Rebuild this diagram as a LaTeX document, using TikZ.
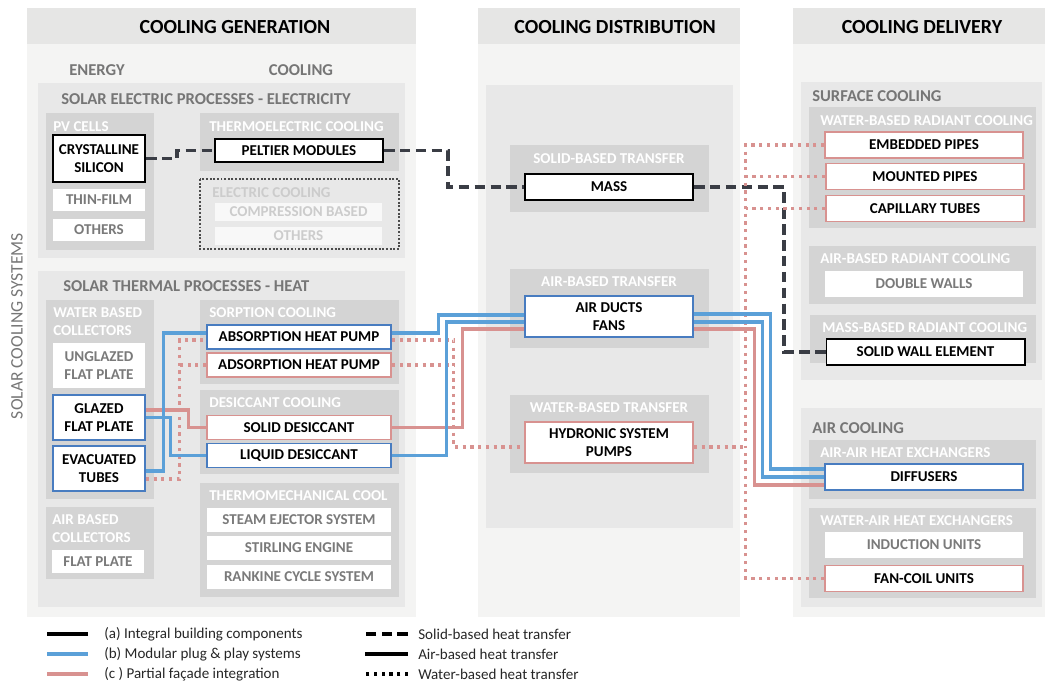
\documentclass[tikz,border=0pt]{standalone}
\usepackage{fontspec}
\setmainfont{Carlito}
\usepackage{tikz}
\definecolor{bandgray}{RGB}{230,230,229}
\definecolor{colgray}{RGB}{244,244,243}
\definecolor{panelgray}{RGB}{232,232,232}
\definecolor{subgray}{RGB}{212,212,212}
\definecolor{titlegray}{RGB}{118,118,118}
\definecolor{boxtext}{RGB}{122,122,122}
\definecolor{fadegray}{RGB}{204,204,204}
\definecolor{modular}{RGB}{91,160,216}
\definecolor{modframe}{RGB}{72,124,192}
\definecolor{facade}{RGB}{216,146,144}
\definecolor{integral}{RGB}{58,61,69}
\definecolor{legendtext}{RGB}{38,38,38}

\begin{document}
\begin{tikzpicture}[x=0.025cm,y=-0.025cm,
        boxtxt/.style={font=\bfseries\fontsize{10.7}{12.8}\selectfont,align=center,inner sep=0pt,fill=white},
        intbox/.style={boxtxt,draw=black,line width=1.4pt,text=black},
        modbox/.style={boxtxt,draw=modframe,line width=1.1pt,text=black},
        facbox/.style={boxtxt,draw=facade,line width=1.1pt,text=black},
        optbox/.style={boxtxt,text=boxtext},
        fadebox/.style={boxtxt,fill=white!70!panelgray,text=fadegray},
        collbox/.style={minimum width=2.3cm},
        coolbox/.style={minimum width=4.6cm,minimum height=0.6cm},
        tranbox/.style={minimum width=4.2cm},
        delibox/.style={minimum width=4.95cm,minimum height=0.65cm},
        colhead/.style={font=\bfseries\fontsize{14.2}{16}\selectfont,inner sep=0pt},
        sidehead/.style={font=\bfseries\fontsize{11.8}{14}\selectfont,text=titlegray,inner sep=0pt},
        paneltitle/.style={font=\bfseries\fontsize{11.8}{14}\selectfont,text=titlegray,anchor=west,inner sep=0pt},
        subtitle/.style={font=\bfseries\fontsize{10.7}{12.8}\selectfont,text=white,anchor=west,inner sep=0pt,align=left},
        legtxt/.style={font=\fontsize{10.7}{12.8}\selectfont,text=legendtext,anchor=west,inner sep=0pt},
        solidwire/.style={line width=2.3pt},
        dashwire/.style={line width=2.3pt,dash pattern=on 7.5pt off 3.8pt},
        dotwire/.style={line width=2.3pt,dash pattern=on 2.3pt off 3.2pt},
    ]
        \useasboundingbox (0,0) rectangle (1050,681);

        % columns
        \fill[colgray] (27,8) rectangle (416,617);
        \fill[colgray] (478,8) rectangle (740,617);
        \fill[colgray] (793,8) rectangle (1045,617);
        \fill[bandgray] (27,8) rectangle (416,44);
        \fill[bandgray] (478,8) rectangle (740,44);
        \fill[bandgray] (793,8) rectangle (1045,44);
        \node[colhead] (genhead) at (235,27) {COOLING GENERATION};
        \node[colhead] (disthead) at (615,27) {COOLING DISTRIBUTION};
        \node[colhead] (delhead) at (922,27) {COOLING DELIVERY};
        \node[sidehead] (energyhead) at (97,70) {ENERGY};
        \node[sidehead] (coolhead) at (301,70) {COOLING};
        \node[rotate=90,font=\fontsize{12.5}{14}\selectfont,text=titlegray,inner sep=0pt] (sysname) at (17,326) {SOLAR COOLING SYSTEMS};

        % large panels
        \fill[panelgray] (38,83) rectangle (405,258);
        \fill[panelgray] (38,271) rectangle (405,607);
        \fill[panelgray] (486,85) rectangle (733,528);
        \fill[panelgray] (801,82) rectangle (1042,380);
        \fill[panelgray] (801,408) rectangle (1042,607);
        \node[paneltitle] (electitle) at (61,99) {SOLAR ELECTRIC PROCESSES - ELECTRICITY};
        \node[paneltitle] (thermtitle) at (63,286) {SOLAR THERMAL PROCESSES - HEAT};
        \node[paneltitle] (surftitle) at (812,96) {SURFACE COOLING};
        \node[paneltitle] (airtitle) at (812,428) {AIR COOLING};

        % sub panels
        \fill[subgray] (46,113) rectangle (154,250);
        \fill[subgray] (200,113) rectangle (399,171);
        \fill[subgray] (46,300) rectangle (154,499);
        \fill[subgray] (46,507) rectangle (154,579);
        \fill[subgray] (200,300) rectangle (399,384);
        \fill[subgray] (200,390) rectangle (399,474);
        \fill[subgray] (200,483) rectangle (399,597);
        \fill[subgray] (510,145) rectangle (709,212);
        \fill[subgray] (510,269) rectangle (709,348);
        \fill[subgray] (510,395) rectangle (709,473);
        \fill[subgray] (809,107) rectangle (1036,228);
        \fill[subgray] (809,246) rectangle (1036,304);
        \fill[subgray] (810,315) rectangle (1036,363);
        \fill[subgray] (809,440) rectangle (1036,499);
        \fill[subgray] (809,508) rectangle (1036,598);
        \draw[black!70,line width=1.4pt,dash pattern=on 1.4pt off 1.2pt] (200,179) rectangle (399,249);

        \node[subtitle] (pvtitle) at (53,127) {PV CELLS};
        \node[subtitle] (tectitle) at (209,127) {THERMOELECTRIC COOLING};
        \node[subtitle,text=fadegray] (eltitle) at (212,193) {ELECTRIC COOLING};
        \node[subtitle] (wctitle) at (53,322) {WATER BASED\\COLLECTORS};
        \node[subtitle] (actitle) at (52,529) {AIR BASED\\COLLECTORS};
        \node[subtitle] (sorptitle) at (209,313) {SORPTION COOLING};
        \node[subtitle] (destitle) at (209,403) {DESICCANT COOLING};
        \node[subtitle] (tmtitle) at (209,496) {THERMOMECHANICAL COOL};
        \node[subtitle,anchor=center] (sbtitle) at (609,159) {SOLID-BASED TRANSFER};
        \node[subtitle,anchor=center] (abtitle) at (609,282) {AIR-BASED TRANSFER};
        \node[subtitle,anchor=center] (wbtitle) at (609,408) {WATER-BASED TRANSFER};
        \node[subtitle] (wrtitle) at (820,121) {WATER-BASED RADIANT COOLING};
        \node[subtitle] (artitle) at (820,259) {AIR-BASED RADIANT COOLING};
        \node[subtitle] (mrtitle) at (822,328) {MASS-BASED RADIANT COOLING};
        \node[subtitle] (aatitle) at (820,453) {AIR-AIR HEAT EXCHANGERS};
        \node[subtitle] (watitle) at (820,521) {WATER-AIR HEAT EXCHANGERS};

        % generation
        \node[intbox,collbox,minimum height=1.175cm] (crys) at (99,158.5) {CRYSTALLINE\\SILICON};
        \node[optbox,collbox,minimum height=0.55cm] (thin) at (99,200) {THIN-FILM};
        \node[optbox,collbox,minimum height=0.55cm] (pvother) at (99,230) {OTHERS};
        \node[intbox,minimum width=4.2cm,minimum height=0.575cm] (peltier) at (299,150.5) {PELTIER MODULES};
        \node[fadebox,minimum width=4.175cm,minimum height=0.45cm] (compr) at (298.5,212) {COMPRESSION BASED};
        \node[fadebox,minimum width=4.175cm,minimum height=0.45cm] (elother) at (298.5,236) {OTHERS};
        \node[optbox,collbox,minimum height=1.125cm] (unglazed) at (99,365.5) {UNGLAZED\\FLAT PLATE};
        \node[modbox,collbox,minimum height=1.125cm] (glazed) at (99,417.5) {GLAZED\\FLAT PLATE};
        \node[modbox,collbox,minimum height=1.125cm] (evac) at (99,468.5) {EVACUATED\\TUBES};
        \node[optbox,collbox,minimum height=0.575cm] (airflat) at (98,561.5) {FLAT PLATE};
        \node[modbox,coolbox] (absorb) at (299,337) {ABSORPTION HEAT PUMP};
        \node[facbox,coolbox] (adsorb) at (299,365) {ADSORPTION HEAT PUMP};
        \node[facbox,coolbox] (soliddes) at (299,427.5) {SOLID DESICCANT};
        \node[modbox,coolbox] (liqdes) at (299,455.5) {LIQUID DESICCANT};
        \node[optbox,coolbox] (steam) at (299,520) {STEAM EJECTOR SYSTEM};
        \node[optbox,coolbox] (stirling) at (299,547.5) {STIRLING ENGINE};
        \node[optbox,coolbox] (rankine) at (299,577) {RANKINE CYCLE SYSTEM};

        % distribution
        \node[intbox,tranbox,minimum height=0.65cm] (mass) at (609,187) {MASS};
        \node[modbox,tranbox,minimum height=1.025cm] (ducts) at (609,316.5) {AIR DUCTS\\FANS};
        \node[facbox,tranbox,minimum height=1.025cm] (hydro) at (609,442.5) {HYDRONIC SYSTEM\\PUMPS};

        % delivery
        \node[facbox,delibox] (embedded) at (924,145) {EMBEDDED PIPES};
        \node[facbox,delibox] (mounted) at (925,176.5) {MOUNTED PIPES};
        \node[facbox,delibox] (capillary) at (925,208.5) {CAPILLARY TUBES};
        \node[optbox,delibox] (dblwalls) at (924,284) {DOUBLE WALLS};
        \node[intbox,delibox] (solidwall) at (925.5,352) {SOLID WALL ELEMENT};
        \node[modbox,delibox] (diffusers) at (924,477) {DIFFUSERS};
        \node[optbox,delibox] (induction) at (924,545) {INDUCTION UNITS};
        \node[facbox,delibox] (fancoil) at (924,578.5) {FAN-COIL UNITS};

        % solid-based heat transfer
        \draw[dashwire,integral] (crys.east) -- ++(31,0) |- (peltier.west);
        \draw[dashwire,integral] (peltier.east) -- ++(64,0) |- (mass.west);
        \draw[dashwire,integral] (mass.east) -- ++(90,0) |- (solidwall.west);

        % water-based heat transfer
        \draw[dotwire,facade] ([yshift=-7.4pt]evac.east) -- ++(34,0) coordinate (lftriser) |- ([yshift=-2.1pt]absorb.west);
        \draw[dotwire,facade] (adsorb.west) -- (adsorb.west -| lftriser);
        \draw[dotwire,facade] ([yshift=-2.1pt]absorb.east) -- ++(62,0) coordinate (midriser) |- ([yshift=-3.2pt]hydro.west);
        \draw[dotwire,facade] (adsorb.east) -- (adsorb.east -| midriser);
        \draw[dotwire,facade] ([yshift=-3.2pt]hydro.east) -- ++(52,0) coordinate (rgtriser);
        \draw[dotwire,facade] (embedded.west) -| (rgtriser);
        \draw[dotwire,facade] (fancoil.west) -| (rgtriser);
        \draw[dotwire,facade] (mounted.west) -- (mounted.west -| rgtriser);
        \draw[dotwire,facade] (capillary.west) -- (capillary.west -| rgtriser);

        % air-based heat transfer
        \draw[solidwire,facade] ([yshift=5.3pt]glazed.east) -- ++(43,0) |- (soliddes.west);
        \draw[solidwire,facade] (soliddes.east) -- ++(71,0) |- ([yshift=-8.9pt]ducts.west);
        \draw[solidwire,facade] ([yshift=-8.9pt]ducts.east) -- ++(61,0) |- ([yshift=-5.7pt]diffusers.west);
        \draw[solidwire,modular] ([yshift=-1.8pt]evac.east) -- ++(18,0) |- ([yshift=2.8pt]absorb.west);
        \draw[solidwire,modular] (glazed.east) -- ++(25,0) |- (liqdes.west);
        \draw[solidwire,modular] ([yshift=2.8pt]absorb.east) -- ++(47,0) |- ([yshift=1.1pt]ducts.west);
        \draw[solidwire,modular] (liqdes.east) -- ++(55,0) |- ([yshift=-3.9pt]ducts.west);
        \draw[solidwire,modular] ([yshift=1.8pt]ducts.east) -- ++(77,0) |- ([yshift=5.7pt]diffusers.west);
        \draw[solidwire,modular] ([yshift=-3.9pt]ducts.east) -- ++(69,0) |- (diffusers.west);

        % legend
        \node[legtxt] (lega) at (104,634) {(a) Integral building components};
        \node[legtxt] (legb) at (104,654) {(b) Modular plug \& play systems};
        \node[legtxt] (legc) at (104,674) {(c ) Partial façade integration};
        \node[legtxt] (legsolid) at (418,634) {Solid-based heat transfer};
        \node[legtxt] (legair) at (418,654) {Air-based heat transfer};
        \node[legtxt] (legwater) at (418,674) {Water-based heat transfer};
        \draw[solidwire,black] (lega.west) ++(-16,0) -- ++(-41,0);
        \draw[solidwire,modular] (legb.west) ++(-16,0) -- ++(-41,0);
        \draw[solidwire,facade] (legc.west) ++(-16,0) -- ++(-41,0);
        \draw[dashwire,black] (legsolid.west) ++(-10,0) -- ++(-43,0);
        \draw[solidwire,black] (legair.west) ++(-10,0) -- ++(-43,0);
        \draw[dotwire,black] (legwater.west) ++(-10,0) -- ++(-43,0);
    \end{tikzpicture}
\end{document}
